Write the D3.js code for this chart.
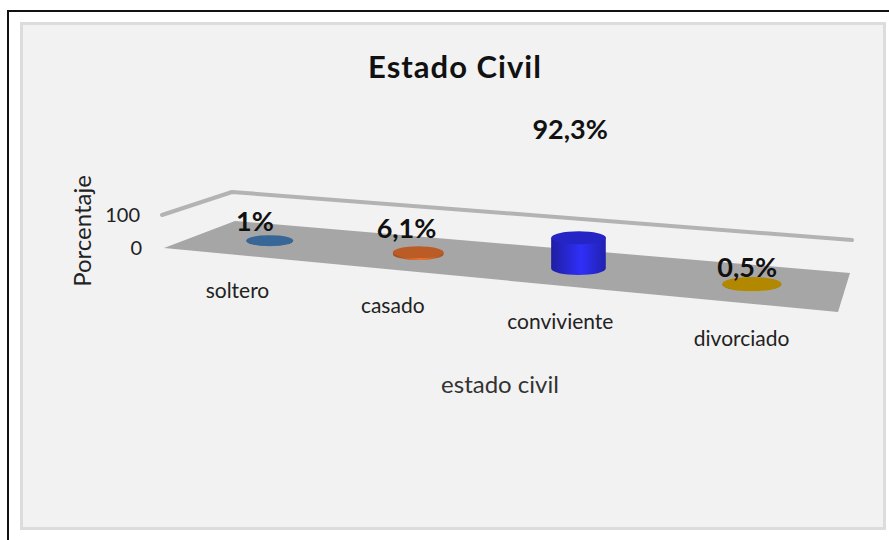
<!DOCTYPE html>
<html>
<head>
<meta charset="utf-8">
<script src="https://cdn.jsdelivr.net/npm/d3@7"></script>
<style>
  body { margin: 0; background: #fff; }
  text { font-family: Lato, "Open Sans", sans-serif; }
</style>
</head>
<body>
<svg id="chart"></svg>
<script>
var width = 889,
    height = 540;

// data
const categories = ["soltero", "casado", "conviviente", "divorciado"];
const values = [1, 6.1, 92.3, 0.5];
const valueLabels = ["1%", "6,1%", "92,3%", "0,5%"];
const colors = ["#3f74ab", "#d4682c", "#2a2ae0", "#c99a00"];
const yTicks = [0, 100];

// 3d box: floor corners and the corners of the plane at value 100
var floor = {fl: [164, 248], fr: [838, 312], bl: [235, 221], br: [850, 273]},
    roof = {fl: [162, 215], fr: [840, 275], bl: [232, 192], br: [852, 240]};

let lerp = (a, b, t) => [a[0] + (b[0] - a[0]) * t, a[1] + (b[1] - a[1]) * t];

// perspective squeeze along the category axis
let warp = (u) => {
    let b = -0.1437;
    return (1 + b) * u / (1 + b * u);
};

let bilerp = (c, u, v) => lerp(lerp(c.fl, c.fr, u), lerp(c.bl, c.br, u), v);

let project = (u, v, t) => {
    let w = warp(u);
    return lerp(bilerp(floor, w, v), bilerp(roof, w, v), t);
};

let x = d3.scaleBand()
    .domain(categories)
    .range([0, 1]);

let y = d3.scaleLinear()
    .domain([0, 100])
    .range([0, 1]);

// excel lifts the data labels with the value
let labelLift = d3.scaleLinear()
    .domain([0, 100])
    .range([15, 148]);

let svg = d3.select("#chart")
    .attr("width", width)
    .attr("height", height);

// page frame (left and top only, the screenshot is cropped)
svg.append("path")
    .attr("d", "M8,540 V11 H889")
    .attr("fill", "none")
    .attr("stroke", "#111")
    .attr("stroke-width", 2);

svg.append("rect")
    .attr("x", 21.5)
    .attr("y", 23.5)
    .attr("width", 863)
    .attr("height", 505)
    .attr("fill", "#f2f2f2")
    .attr("stroke", "#dcdcdc")
    .attr("stroke-width", 3);

// Title
svg.append("text")
    .attr("x", 455)
    .attr("y", 78)
    .attr("text-anchor", "middle")
    .attr("font-size", 31)
    .attr("font-weight", "bold")
    .attr("letter-spacing", 1)
    .attr("fill", "#111")
    .text("Estado Civil");

// floor
let fp = [project(0, 0, 0), project(0, 1, 0), project(1, 1, 0), project(1, 0, 0)];
svg.append("path")
    .attr("d", "M" + fp.join("L") + "Z")
    .attr("fill", "#a6a6a6");

// wall top edges
let wp = [project(0, 0, y(100)), project(0, 1, y(100)), project(1, 1, y(100))];
svg.append("path")
    .attr("d", "M" + wp.join("L"))
    .attr("fill", "none")
    .attr("stroke", "#b3b3b3")
    .attr("stroke-width", 4)
    .attr("stroke-linecap", "round")
    .attr("stroke-linejoin", "round");

// value axis ticks
svg.append("g")
    .selectAll("text")
    .data(yTicks)
    .join("text")
    .attr("x", d => project(0, 0, y(d))[0] - 22)
    .attr("y", d => project(0, 0, y(d))[1] + 7)
    .attr("text-anchor", "end")
    .attr("font-size", 20)
    .attr("fill", "#222")
    .text(d => d);

// Y axis label
svg.append("text")
    .attr("transform", "translate(91, 231) rotate(-90)")
    .attr("text-anchor", "middle")
    .attr("font-size", 24)
    .attr("fill", "#222")
    .text("Porcentaje");

// cylinders
let radius = 0.041,
    depthRadius = 0.19;

let cyl = categories.map((c, i) => {
    let u = x(c) + x.bandwidth() / 2;
    let base = project(u, 0.5, 0);
    let top = project(u, 0.5, y(values[i]));
    let rx = (project(u + radius, 0.5, 0)[0] - project(u - radius, 0.5, 0)[0]) / 2;
    let ry = (project(u, 0.5 - depthRadius, 0)[1] - project(u, 0.5 + depthRadius, 0)[1]) / 2;
    return {name: c, value: values[i], label: valueLabels[i], color: colors[i], u, base, top, rx, ry};
});

let defs = svg.append("defs");
cyl.forEach((d, i) => {
    let g = defs.append("linearGradient")
        .attr("id", "body" + i);
    g.append("stop").attr("offset", "0%").attr("stop-color", d3.color(d.color).darker(0.9));
    g.append("stop").attr("offset", "55%").attr("stop-color", d3.color(d.color).brighter(0.3));
    g.append("stop").attr("offset", "100%").attr("stop-color", d3.color(d.color).darker(0.7));
});

let bars = svg.append("g")
    .selectAll("g")
    .data(cyl)
    .join("g");

bars.append("path")
    .attr("d", d => {
        let l = d.base[0] - d.rx, r = d.base[0] + d.rx;
        return `M${l},${d.top[1]} L${l},${d.base[1]} A${d.rx},${d.ry} 0 0 0 ${r},${d.base[1]} L${r},${d.top[1]} Z`;
    })
    .attr("fill", (d, i) => `url(#body${i})`);

bars.append("ellipse")
    .attr("cx", d => d.top[0])
    .attr("cy", d => d.top[1])
    .attr("rx", d => d.rx)
    .attr("ry", d => d.ry)
    .attr("fill", d => d3.color(d.color).darker(0.35));

// data labels
svg.append("g")
    .selectAll("text")
    .data(cyl)
    .join("text")
    .attr("x", d => project(d.u, 0.27, 0)[0])
    .attr("y", d => project(d.u, 0.27, 0)[1] - labelLift(d.value))
    .attr("text-anchor", "middle")
    .attr("font-size", 27)
    .attr("font-weight", "bold")
    .attr("fill", "#111")
    .text(d => d.label);

// category labels along the front edge
svg.append("g")
    .selectAll("text")
    .data(cyl)
    .join("text")
    .attr("x", d => project(d.u, 0, 0)[0])
    .attr("y", d => project(d.u, 0, 0)[1] + 43)
    .attr("text-anchor", "middle")
    .attr("font-size", 21)
    .attr("fill", "#222")
    .text(d => d.name);

// X axis label
svg.append("text")
    .attr("x", 500)
    .attr("y", 393)
    .attr("text-anchor", "middle")
    .attr("font-size", 24)
    .attr("fill", "#333")
    .text("estado civil");
</script>
</body>
</html>
